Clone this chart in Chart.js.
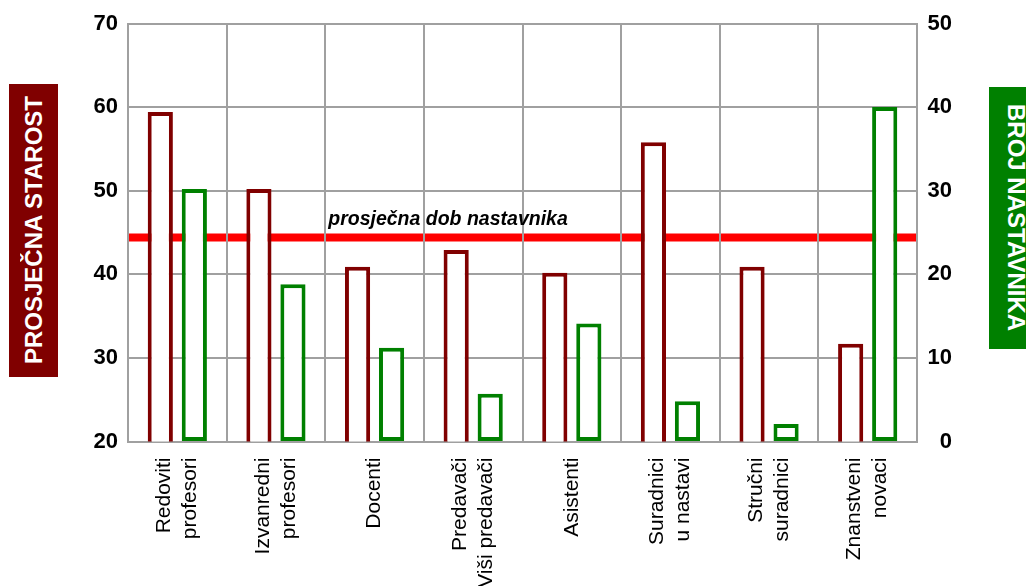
<!DOCTYPE html>
<html>
<head>
<meta charset="utf-8">
<script src="https://cdn.jsdelivr.net/npm/chart.js@4/dist/chart.umd.min.js"></script>
<style>
  html, body { margin: 0; padding: 0; background: #fff; overflow: hidden; }
  #wrap { position: relative; width: 1026px; height: 586px; overflow: hidden; }
  canvas { position: absolute; left: 0; top: 0; }
  .ttl { position: absolute; display: flex; align-items: center; justify-content: center;
         color: #fff; font: bold 24px 'Liberation Sans', Arial, sans-serif; white-space: nowrap; }
  .ttl span { writing-mode: vertical-rl; }
  #tl { left: 9px; top: 84px; width: 49px; height: 293px; background: #800000; }
  #tl span { transform: rotate(180deg); }
  #tr { left: 989px; top: 87px; width: 54px; height: 262px; background: #008000; }
</style>
</head>
<body>
<div id="wrap">
  <canvas id="c" width="1026" height="586"></canvas>
  <div class="ttl" id="tl"><span>PROSJEČNA STAROST</span></div>
  <div class="ttl" id="tr"><span>BROJ NASTAVNIKA</span></div>
</div>
<script>
const categories = [
  ["Redoviti", "profesori"],
  ["Izvanredni", "profesori"],
  ["Docenti"],
  ["Predavači", "Viši predavači"],
  ["Asistenti"],
  ["Suradnici", "u nastavi"],
  ["Stručni", "suradnici"],
  ["Znanstveni", "novaci"]
];
const avgAge = [59.4, 50.2, 40.9, 42.9, 40.2, 55.8, 40.9, 31.7];
const teacherCount = [30.2, 18.8, 11.2, 5.7, 14.1, 4.8, 2.1, 40.0];
const overallAvgAge = 44.4;
const overallAvgLabel = "prosječna dob nastavnika";
const leftTicks = [20, 30, 40, 50, 60, 70];
const rightTicks = [0, 10, 20, 30, 40, 50];

// Rotated multi-line labels: interleave a half-height blank line so that
// two-line labels sit symmetrically around the tick and single lines stay centred.
const tickLabels = categories.map(c => c.length === 1 ? ["", c[0]] : [c[0], "", c[1]]);

const GRID = '#a0a0a0';
const tickFont = { family: "'Liberation Sans Narrow', 'Arial Narrow', 'Liberation Sans', sans-serif", size: 22, weight: 'bold' };

const avgLinePlugin = {
  id: 'avgLine',
  beforeDraw(chart) {
    const { ctx, chartArea: a, scales: { y } } = chart;
    const py = y.getPixelForValue(overallAvgAge);
    ctx.save();
    ctx.strokeStyle = '#ff0000';
    ctx.lineWidth = 8;
    ctx.beginPath();
    ctx.moveTo(a.left, py);
    ctx.lineTo(a.right, py);
    ctx.stroke();
    ctx.restore();
  },
  afterDraw(chart) {
    const { ctx, scales: { x, y } } = chart;
    const py = y.getPixelForValue(overallAvgAge);
    const catW = x.width / categories.length;
    const px = x.getPixelForValue(2) - catW / 2 + 3;
    ctx.save();
    ctx.fillStyle = '#000';
    ctx.font = "italic bold 19.5px 'Liberation Sans', Arial, sans-serif";
    ctx.textBaseline = 'alphabetic';
    ctx.textAlign = 'left';
    ctx.fillText(overallAvgLabel, px, py - 13);
    ctx.restore();
  }
};

new Chart(document.getElementById('c'), {
  type: 'bar',
  data: {
    labels: tickLabels,
    datasets: [
      {
        label: 'Prosječna starost',
        data: avgAge,
        yAxisID: 'y',
        backgroundColor: '#ffffff',
        borderColor: '#800000',
        borderWidth: 4,
        borderSkipped: false,
        categoryPercentage: 0.69,
        barPercentage: 0.74
      },
      {
        label: 'Broj nastavnika',
        data: teacherCount,
        yAxisID: 'y2',
        backgroundColor: '#ffffff',
        borderColor: '#008000',
        borderWidth: 4,
        borderSkipped: false,
        categoryPercentage: 0.69,
        barPercentage: 0.74
      }
    ]
  },
  options: {
    responsive: false,
    devicePixelRatio: 1,
    animation: false,
    layout: { padding: { top: 23.5, left: 0, right: 74, bottom: 0 } },
    plugins: { legend: { display: false }, tooltip: { enabled: false } },
    scales: {
      x: {
        grid: { color: GRID, lineWidth: 2, drawTicks: false, offset: true },
        border: { color: GRID, width: 2 },
        ticks: {
          autoSkip: false, minRotation: 90, maxRotation: 90, padding: 16,
          labelOffset: -13,
          color: '#000',
          font: { family: "'Liberation Sans', Arial, sans-serif", size: 21, lineHeight: '13px' }
        },
        afterFit(s) { s.height = 144.5; s.paddingLeft = 0; s.paddingRight = 0; }
      },
      y: {
        position: 'left',
        min: leftTicks[0], max: leftTicks[leftTicks.length - 1],
        grid: { color: GRID, lineWidth: 2, drawTicks: false },
        border: { color: GRID, width: 2 },
        ticks: { stepSize: 10, padding: 10, color: '#000', font: tickFont },
        afterFit(s) { s.width = 128; s.paddingTop = 0; s.paddingBottom = 0; }
      },
      y2: {
        position: 'right',
        min: rightTicks[0], max: rightTicks[rightTicks.length - 1],
        grid: { drawOnChartArea: false, drawTicks: false },
        border: { color: GRID, width: 2 },
        ticks: { stepSize: 10, padding: 14, crossAlign: 'far', color: '#000', font: tickFont },
        afterFit(s) { s.width = 35; s.paddingTop = 0; s.paddingBottom = 0; }
      }
    }
  },
  plugins: [avgLinePlugin]
});
</script>
</body>
</html>
